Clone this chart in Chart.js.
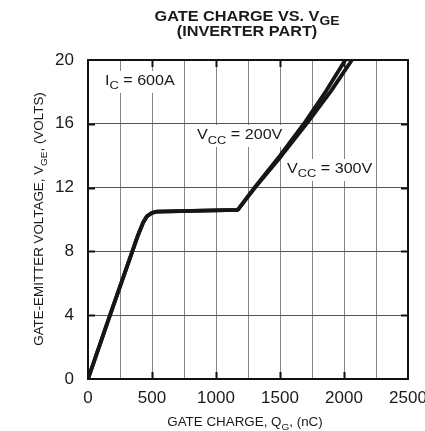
<!DOCTYPE html>
<html>
<head>
<meta charset="utf-8">
<title>Gate charge vs. VGE</title>
<script src="https://cdn.jsdelivr.net/npm/chart.js@4.4.1/dist/chart.umd.min.js"></script>
<style>
    html, body { margin: 0; padding: 0; background: #fff; overflow: hidden; }
    #wrap { width: 425px; height: 431px; }
</style>
</head>
<body>
<div id="wrap"><canvas id="gateChart" width="425" height="431"></canvas></div>
<script>
/* ---------------------------
   DATA
---------------------------- */
const chargeTickLabels = [0, 500, 1000, 1500, 2000, 2500];   // nC, labelled ticks
const voltTickLabels = [0, 4, 8, 12, 16, 20];                // V

const chargeVcc200 = [0, 172, 390, 430, 460, 500, 540, 1170, 1300, 1500, 1700, 1860, 2010];
const voltsVcc200  = [0, 4.0, 9.0, 9.8, 10.2, 10.42, 10.5, 10.6, 12.0, 14.0, 16.15, 18.05, 20.0];

const chargeVcc300 = [0, 172, 390, 430, 460, 500, 540, 1170, 1305, 1512, 1722, 1898, 2062];
const voltsVcc300  = [0, 4.0, 9.0, 9.8, 10.2, 10.42, 10.5, 10.6, 12.0, 14.0, 16.15, 18.05, 20.0];

const FONT = '"Liberation Sans", Arial, Helvetica, sans-serif';
const INK = "#1a1a1a";

// text labels inside the plot, anchored left / vertically centred on caps
const notes = [
    { parts: [["I", 0], ["C", 1], [" = 600A", 0]], x: 133, y: 18.75 },
    { parts: [["V", 0], ["CC", 1], [" = 200V", 0]], x: 852, y: 15.36 },
    { parts: [["V", 0], ["CC", 1], [" = 300V", 0]], x: 1555, y: 13.23 }
];

function toPoints(xs, ys) {
    return xs.map((x, i) => ({ x: x, y: ys[i] }));
}

/* ---------------------------
   TEXT WITH SUBSCRIPTS
---------------------------- */
function fontStr(size, bold) {
    return (bold ? "bold " : "") + size + "px " + FONT;
}

function richWidth(ctx, parts, o) {
    let w = 0;
    parts.forEach(p => {
        ctx.font = fontStr(p[1] ? o.size * o.subScale : o.size, o.bold);
        w += ctx.measureText(p[0]).width;
    });
    return w * o.stretch;
}

function drawRich(ctx, parts, x, y, o) {
    const w = richWidth(ctx, parts, o) / o.stretch;
    ctx.save();
    ctx.translate(x, y);
    if (o.rotate) ctx.rotate(o.rotate);
    ctx.scale(o.stretch, 1);
    ctx.textAlign = "left";
    ctx.textBaseline = "alphabetic";
    ctx.fillStyle = INK;
    let cx = o.align === "center" ? -w / 2 : 0;
    parts.forEach(p => {
        ctx.font = fontStr(p[1] ? o.size * o.subScale : o.size, o.bold);
        ctx.fillText(p[0], cx, p[1] ? o.size * o.subDrop : 0);
        cx += ctx.measureText(p[0]).width;
    });
    ctx.restore();
}

const titleStyle = { size: 14, bold: true, stretch: 1.16, subScale: 0.85, subDrop: 0.3, align: "center" };
const axisStyle  = { size: 12.5, bold: false, stretch: 1.07, subScale: 0.75, subDrop: 0.3, align: "center" };
const noteStyle  = { size: 14, bold: false, stretch: 1.15, subScale: 0.8, subDrop: 0.32, align: "left" };

/* ---------------------------
   DECORATION PLUGIN
---------------------------- */
const decor = {
    id: "decor",
    beforeDatasetsDraw(chart) {
        const ctx = chart.ctx;
        const xs = chart.scales.x, ys = chart.scales.y;
        notes.forEach(n => {
            const px = xs.getPixelForValue(n.x);
            const py = ys.getPixelForValue(n.y);
            const w = richWidth(ctx, n.parts, noteStyle);
            ctx.fillStyle = "#fff";
            ctx.fillRect(px - 3, py - 9, w + 6, 22);
            drawRich(ctx, n.parts, px, py + noteStyle.size * 0.358, noteStyle);
        });
    },
    afterDraw(chart) {
        const ctx = chart.ctx;
        const a = chart.chartArea;
        const xs = chart.scales.x, ys = chart.scales.y;

        // frame
        ctx.save();
        ctx.strokeStyle = "#111";
        ctx.lineWidth = 2;
        ctx.strokeRect(a.left, a.top, a.right - a.left, a.bottom - a.top);

        // short inward tick marks on the major divisions
        ctx.beginPath();
        chargeTickLabels.slice(1, -1).forEach(v => {
            const px = Math.round(xs.getPixelForValue(v)) + 0.5;
            ctx.moveTo(px, a.top); ctx.lineTo(px, a.top + 7);
            ctx.moveTo(px, a.bottom); ctx.lineTo(px, a.bottom - 7);
        });
        voltTickLabels.slice(1, -1).forEach(v => {
            const py = Math.round(ys.getPixelForValue(v)) + 0.5;
            ctx.moveTo(a.left, py); ctx.lineTo(a.left + 7, py);
            ctx.moveTo(a.right, py); ctx.lineTo(a.right - 7, py);
        });
        ctx.stroke();
        ctx.restore();

        // titles
        drawRich(ctx, [["GATE CHARGE VS. V", 0], ["GE", 1]], 247, 21, titleStyle);
        drawRich(ctx, [["(INVERTER PART)", 0]], 247, 35.5, titleStyle);
        drawRich(ctx, [["GATE CHARGE, Q", 0], ["G", 1], [", (nC)", 0]], 245, 426, axisStyle);
        drawRich(ctx, [["GATE-EMITTER VOLTAGE, V", 0], ["GE", 1], [", (VOLTS)", 0]], 43, 219,
            Object.assign({}, axisStyle, { rotate: -Math.PI / 2 }));
    }
};

/* ---------------------------
   CHART
---------------------------- */
const lineStyle = {
    borderColor: "#161616",
    borderWidth: 3.8,
    pointRadius: 0,
    tension: 0,
    fill: false,
    borderJoinStyle: "round",
    borderCapStyle: "round"
};

new Chart(document.getElementById("gateChart"), {
    type: "line",
    data: {
        datasets: [
            Object.assign({ label: "VCC = 200V", data: toPoints(chargeVcc200, voltsVcc200) }, lineStyle),
            Object.assign({ label: "VCC = 300V", data: toPoints(chargeVcc300, voltsVcc300) }, lineStyle)
        ]
    },
    options: {
        responsive: false,
        animation: false,
        events: [],
        layout: { padding: { top: 60, right: 17, bottom: 0, left: 0 } },
        plugins: {
            legend: { display: false },
            tooltip: { enabled: false }
        },
        scales: {
            x: {
                type: "linear",
                min: 0,
                max: 2500,
                border: { display: false },
                grid: {
                    drawTicks: false,
                    color: ctx => (ctx.tick.value === 0 || ctx.tick.value === 2500) ? "rgba(0,0,0,0)" : "#858585",
                    lineWidth: 1
                },
                ticks: {
                    stepSize: 250,
                    autoSkip: false,
                    minRotation: 0,
                    maxRotation: 0,
                    padding: 9,
                    color: INK,
                    font: { family: FONT, size: 17 },
                    callback: v => chargeTickLabels.includes(v) ? String(v) : ""
                },
                afterFit(scale) {
                    // keep the plot box fixed; let "2500" run off the right edge
                    scale.height = 52;
                    scale.paddingLeft = 0;
                    scale.paddingRight = 0;
                }
            },
            y: {
                type: "linear",
                min: 0,
                max: 20,
                border: { display: false },
                grid: {
                    drawTicks: false,
                    color: ctx => (ctx.tick.value === 0 || ctx.tick.value === 20) ? "rgba(0,0,0,0)" : "#555",
                    lineWidth: 1
                },
                ticks: {
                    stepSize: 4,
                    minRotation: 0,
                    maxRotation: 0,
                    padding: 14,
                    color: INK,
                    font: { family: FONT, size: 17 },
                    callback: v => voltTickLabels.includes(v) ? String(v) : ""
                },
                afterFit(scale) {
                    scale.width = 88;
                }
            }
        }
    },
    plugins: [decor]
});
</script>
</body>
</html>
